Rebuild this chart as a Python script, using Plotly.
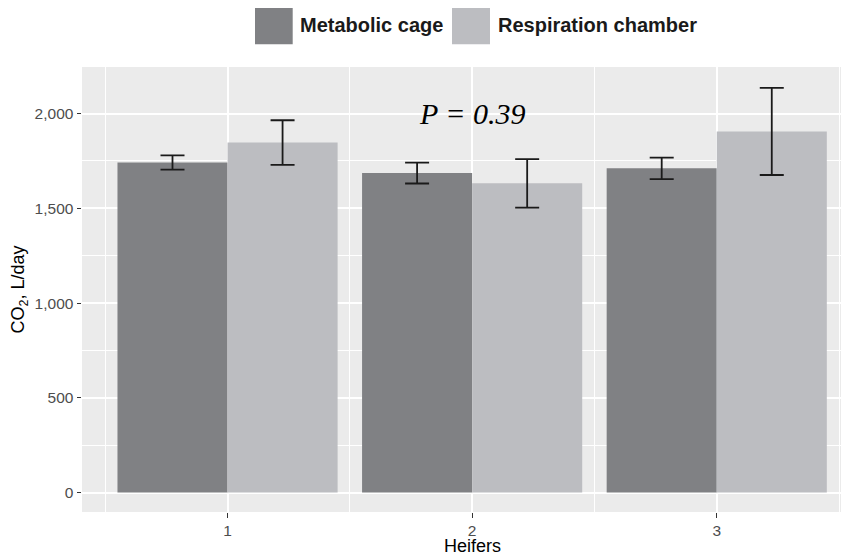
import plotly.graph_objects as go

heifers = [1, 2, 3]
metabolic_cage = [1742, 1686, 1711]
metabolic_err = [38, 55, 57]
respiration_chamber = [1847, 1632, 1906]
respiration_err = [118, 128, 230]
series_names = ["Metabolic cage", "Respiration chamber"]
series_colors = ["#808184", "#BCBDC1"]
y_ticks = [0, 500, 1000, 1500, 2000]
x_title = "Heifers"
y_title = "CO<sub>2</sub>, L/day"

# page body has an 8px margin: shift everything by -8
OFF = 8
W, H = 849 - OFF, 556 - OFF
L, R, T, B = 82 - OFF, 0, 66.7 - OFF, 44.3
pw = W - L - R
ph = H - T - B

fig = go.Figure()
for name, vals, errs, col in [
    (series_names[0], metabolic_cage, metabolic_err, series_colors[0]),
    (series_names[1], respiration_chamber, respiration_err, series_colors[1]),
]:
    fig.add_trace(go.Bar(
        x=heifers, y=vals, name=name, marker=dict(color=col, line=dict(width=0)),
        error_y=dict(type="data", array=errs, visible=True, color="#1a1a1a",
                     thickness=1.8, width=12),
        showlegend=False,
    ))

fig.update_layout(
    width=W, height=H,
    margin=dict(l=L, r=R, t=T, b=B, autoexpand=False),
    paper_bgcolor="white", plot_bgcolor="#EBEBEB",
    barmode="group", bargap=0.1, bargroupgap=0,
    font=dict(family="Liberation Sans, Arial, sans-serif", color="#000000"),
)

fig.update_xaxes(
    range=[0.405, 0.405 + pw / 244.6],
    tickvals=heifers, ticktext=[str(h) for h in heifers],
    showgrid=True, gridcolor="white", gridwidth=1.7,
    zeroline=False, showline=False,
    ticks="outside", ticklen=4.5, tickwidth=1.2, tickcolor="#333333",
    tickfont=dict(size=15.5, color="#4D4D4D"),
    minor=dict(tickvals=[0.5, 1.5, 2.5, 3.5], showgrid=True, gridcolor="white", gridwidth=0.85, ticks=""),
    automargin=False,
)
fig.update_yaxes(
    range=[-102.4, 2245.9],
    tickvals=y_ticks, tickformat=",d",
    showgrid=True, gridcolor="white", gridwidth=1.7,
    zeroline=False, showline=False,
    ticks="outside", ticklen=4.5, tickwidth=1.2, tickcolor="#333333",
    tickfont=dict(size=15.5, color="#4D4D4D"),
    minor=dict(dtick=250, tick0=0, showgrid=True, gridcolor="white", gridwidth=0.85, ticks=""),
    title=dict(text=y_title, font=dict(size=18, color="#000000"), standoff=7),
    automargin=False,
)

fig.add_annotation(
    x=2, y=2000, xref="x", yref="y", text="<i>P = 0.39</i>", showarrow=False,
    font=dict(family="Liberation Serif, Times New Roman, serif", size=30, color="#000000"),
    xanchor="center", yanchor="middle",
)

# positions given in page pixels
def px_x(p):
    return (p - OFF - L) / pw

def px_y(p):
    return (H - B - (p - OFF)) / ph

# x-axis title placed as in the reference
fig.add_annotation(
    x=2, xref="x", y=px_y(546), yref="paper", text=x_title, showarrow=False,
    xanchor="center", yanchor="middle", font=dict(size=18, color="#000000"),
)

# manual legend (large keys, as in the reference)
legend_items = [
    (series_names[0], series_colors[0], 255, 292.7, 298),
    (series_names[1], series_colors[1], 452, 490, 496),
]
for label, col, x0, x1, tx in legend_items:
    fig.add_shape(type="rect", xref="paper", yref="paper",
                  x0=px_x(x0), x1=px_x(x1), y0=px_y(44), y1=px_y(7),
                  fillcolor=col, line=dict(width=0), layer="above")
    fig.add_annotation(xref="paper", yref="paper", x=px_x(tx), y=px_y(25),
                       text="<b>" + label + "</b>", showarrow=False,
                       xanchor="left", yanchor="middle",
                       font=dict(size=20, color="#1a1a1a"))

fig.write_html("out.html")
